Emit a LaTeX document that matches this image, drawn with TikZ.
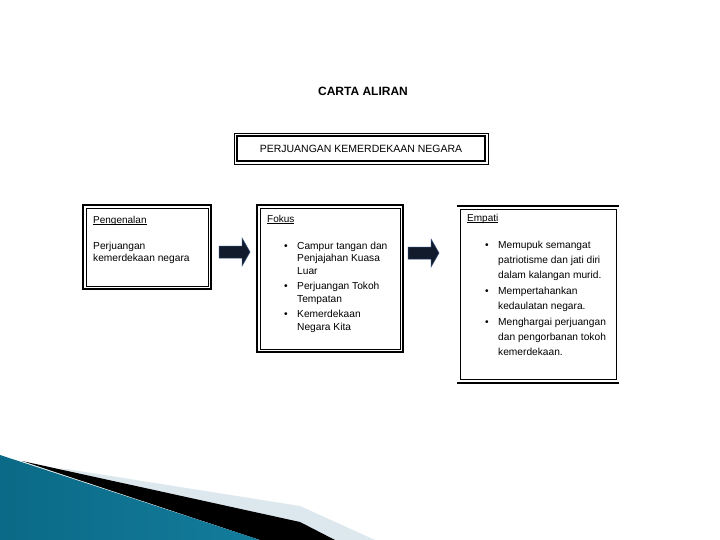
\documentclass[tikz,border=0pt]{standalone}
\usepackage{fontspec}
\setmainfont{Liberation Sans}
\usetikzlibrary{positioning}
\tikzset{
  thinline/.style={draw, line width=0.6pt},
  thickline/.style={draw, line width=1.5pt},
  headtext/.style={anchor=north west, inner sep=0pt, font=\fontsize{10}{12}\selectfont},
  bodytext/.style={anchor=north west, inner sep=0pt, align=left},
  blockarrow/.style={fill=arrowfill, draw=arrowedge, line width=0.5pt, line join=miter},
}
% underlined heading, line close under the baseline
\newcommand{\headul}[1]{\setbox0\hbox{#1}\rlap{\rule[-1.3pt]{\wd0}{0.5pt}}\box0}
% bullet item with hanging lines
\newcommand{\blitem}[1]{\makebox[13pt][l]{\textbullet}\begin{tabular}[t]{@{}l@{}}#1\end{tabular}}
\begin{document}
\begin{tikzpicture}[x=1pt,y=-1pt,font=\fontsize{10.2}{12.5}\selectfont]
  \definecolor{arrowfill}{HTML}{121B2C}
  \definecolor{arrowedge}{HTML}{2B4670}
  \definecolor{tealdark}{HTML}{0B6A86}
  \definecolor{teallight}{HTML}{4DB4D4}
  \definecolor{tealend}{HTML}{137C9C}
  \definecolor{swooshpale}{HTML}{DCE8EE}
  \useasboundingbox[fill=white] (0,0) rectangle (720,540);

  % decoration, bottom left
  \fill[swooshpale] (60,468) -- (300,506) -- (375,540) -- (250,540) -- cycle;
  \fill[black] (22,461) -- (300,522) -- (335,540) -- (260,540) -- cycle;
  \shade[left color=tealdark, middle color=teallight, right color=tealend]
    (0,455) -- (260,540) -- (0,540) -- cycle;

  % title
  \node[font=\bfseries\fontsize{12}{14}\selectfont] (title) at (363,91) {CARTA ALIRAN};

  % top box
  \draw[thinline, line width=0.8pt] (234,133) rectangle (488,164);
  \draw[thickline] (237,136) rectangle (485,161);
  \node[font=\fontsize{10.5}{12}\selectfont] (topic) at (361,149) {PERJUANGAN KEMERDEKAAN NEGARA};

  % Pengenalan box
  \draw[thickline] (83,205) rectangle (211,289);
  \draw[thinline] (86,208) rectangle (208,286);
  \node[headtext] (pengenalan) at (93,216) {\headul{Pengenalan}};
  \node[bodytext, font=\fontsize{10.2}{12}\selectfont] (pengbody) at (93,242) {Perjuangan\\kemerdekaan negara};

  % Fokus box
  \draw[thickline] (257,205) rectangle (403,352);
  \draw[thinline] (260,208) rectangle (400,349);
  \node[headtext] (fokus) at (267,215) {\headul{Fokus}};
  \node[bodytext] (fokusbody) at (284,240.5) {%
    \blitem{Campur tangan dan\\Penjajahan Kuasa\\Luar}\\[2pt]
    \blitem{Perjuangan Tokoh\\Tempatan}\\[2pt]
    \blitem{Kemerdekaan\\Negara Kita}};

  % Empati box
  \draw[thinline] (460,209) rectangle (616,379);
  \draw[thickline] (457,206) -- (619,206);
  \draw[thickline] (457,383) -- (619,383);
  \node[headtext] (empati) at (467,214) {\headul{Empati}};
  \node[bodytext, font=\fontsize{10.2}{15}\selectfont] (empatibody) at (485,237.5) {%
    \blitem{Memupuk semangat\\patriotisme dan jati diri\\dalam kalangan murid.}\\[0pt]
    \blitem{Mempertahankan\\kedaulatan negara.}\\[0pt]
    \blitem{Menghargai perjuangan\\dan pengorbanan tokoh\\kemerdekaan.}};

  % block arrows
  \foreach \x/\y/\n in {219/252/arrowone,408/253/arrowtwo}{
    \coordinate (\n) at (\x,\y);
    \draw[blockarrow] (\n) ++(0,-6) -- ++(23,0) -- ++(0,-8) -- ++(8,14)
      -- ++(-8,14) -- ++(0,-8) -- ++(-23,0) -- cycle;
  }
\end{tikzpicture}
\end{document}
